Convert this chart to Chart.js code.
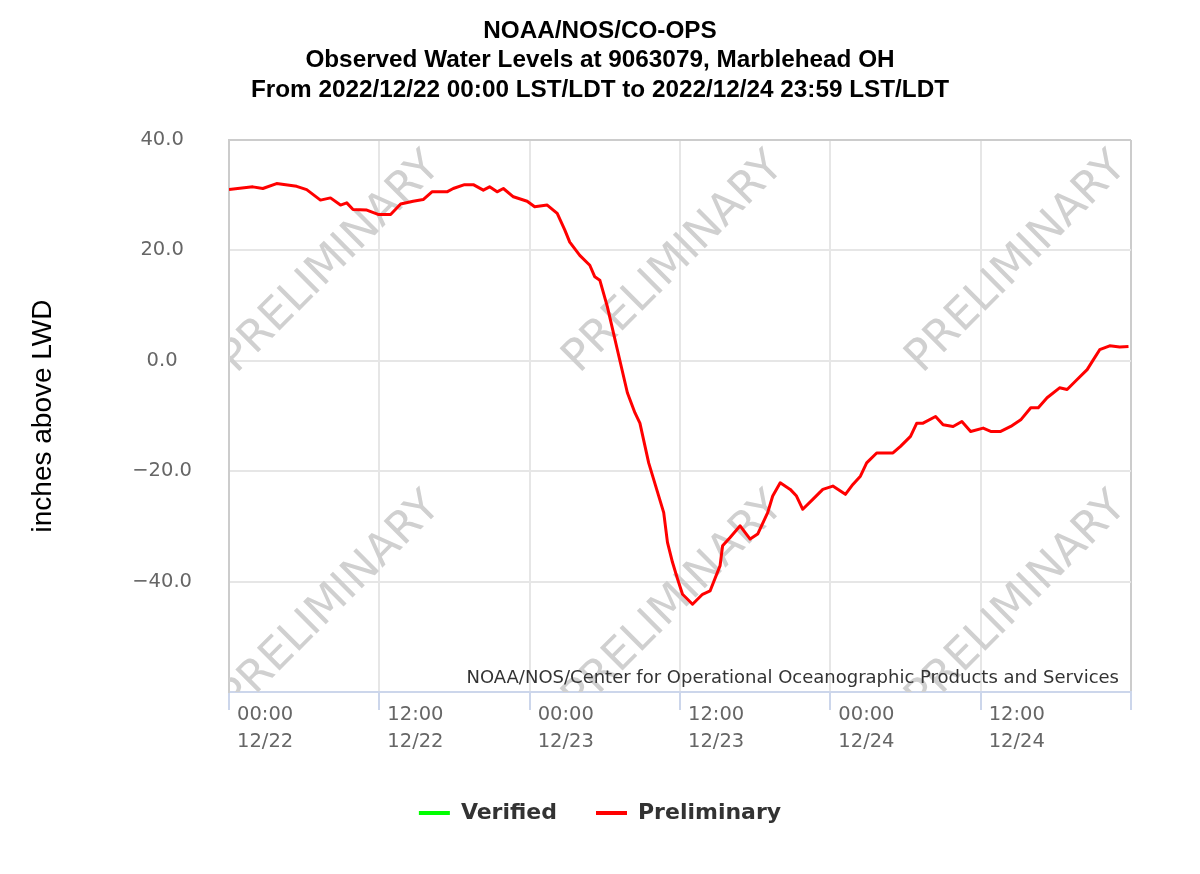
<!DOCTYPE html>
<html>
<head>
<meta charset="utf-8">
<script src="https://cdn.jsdelivr.net/npm/chart.js@4.4.0/dist/chart.umd.min.js"></script>
<style>
  html, body { margin: 0; padding: 0; background: #ffffff; }
  #wrap { width: 1200px; height: 874px; }
</style>
</head>
<body>
<div id="wrap"><canvas id="c" width="1200" height="874"></canvas></div>
<script>
// ---- chart text ----
const titleLines = [
  'NOAA/NOS/CO-OPS',
  'Observed Water Levels at 9063079, Marblehead OH',
  'From 2022/12/22 00:00 LST/LDT to 2022/12/24 23:59 LST/LDT'
];
const yAxisTitle = 'inches above LWD';
const creditText = 'NOAA/NOS/Center for Operational Oceanographic Products and Services';
const watermarkText = 'PRELIMINARY';
const seriesNames = ['Verified', 'Preliminary'];

// ---- x ticks (hours since 2022/12/22 00:00) ----
const xTickHours = [0, 12, 24, 36, 48, 60];
const xTickTimes = ['00:00', '12:00', '00:00', '12:00', '00:00', '12:00'];
const xTickDates = ['12/22', '12/22', '12/23', '12/23', '12/24', '12/24'];
const xMin = 0, xMax = 72;

// ---- y ticks ----
const yTickValues = [40, 20, 0, -20, -40];
const yMin = -60, yMax = 40;

// ---- observed (preliminary) water level, hours since start / inches above LWD ----
const hours = [
  0.0, 1.9, 2.7, 3.8, 5.4, 6.2, 7.3, 8.1, 8.9, 9.4, 9.9, 11.0, 11.9,
  12.9, 13.7, 14.7, 15.5, 16.2, 17.4, 17.9, 18.8, 19.5, 20.3, 20.8, 21.4, 21.9, 22.7, 23.8,
  24.4, 25.4, 26.2, 26.8, 27.2, 28.0, 28.8, 29.2, 29.6, 30.2, 31.0, 31.8, 32.4, 32.8,
  33.5, 34.7, 35.0, 35.4, 35.8, 36.2, 37.0, 37.8, 38.4, 39.2, 39.4, 40.0, 40.8, 41.6,
  42.2, 43.0, 43.4, 44.0, 44.8, 45.3, 45.8, 46.6, 47.4, 48.2, 49.2, 49.8, 50.4, 50.9,
  51.7, 53.0, 53.6, 54.4, 54.9, 55.4, 56.4, 57.0, 57.8, 58.5, 59.2, 60.2, 60.8, 61.6,
  62.4, 63.2, 64.0, 64.6, 65.3, 66.3, 66.9, 67.7, 68.5, 69.0, 69.5, 70.3, 71.1, 71.8
];
const levels = [
  31.0, 31.5, 31.2, 32.1, 31.6, 31.0, 29.1, 29.5, 28.2, 28.6, 27.4, 27.3, 26.5,
  26.5, 28.4, 28.9, 29.2, 30.6, 30.6, 31.2, 31.9, 31.9, 30.9, 31.5, 30.6, 31.2, 29.7, 28.9,
  27.9, 28.2, 26.7, 23.7, 21.5, 19.1, 17.3, 15.2, 14.6, 9.8, 2.0, -5.8, -9.4, -11.3,
  -18.5, -27.5, -32.9, -36.5, -39.5, -42.3, -44.1, -42.3, -41.7, -37.1, -33.5, -32.0, -29.9, -32.3,
  -31.4, -27.5, -24.5, -22.1, -23.3, -24.5, -26.9, -25.1, -23.3, -22.7, -24.2, -22.4, -20.9, -18.5,
  -16.7, -16.7, -15.5, -13.7, -11.3, -11.3, -10.1, -11.6, -11.9, -11.0, -12.8, -12.2, -12.8, -12.8,
  -11.9, -10.7, -8.5, -8.5, -6.7, -4.9, -5.2, -3.4, -1.6, 0.2, 2.0, 2.7, 2.5, 2.6
];
const verifiedHours = [];
const verifiedLevels = [];

const preliminaryData = hours.map((h, i) => ({ x: h, y: levels[i] }));
const verifiedData = verifiedHours.map((h, i) => ({ x: h, y: verifiedLevels[i] }));

function fmtY(v) {
  if (!yTickValues.includes(v)) return '';
  return (v < 0 ? '\u2212' : '') + Math.abs(v).toFixed(1);
}

const watermarkPlugin = {
  id: 'watermark',
  beforeDatasetsDraw(chart) {
    const { ctx, chartArea: a } = chart;
    ctx.save();
    ctx.beginPath();
    ctx.rect(a.left, a.top, a.right - a.left, a.bottom - a.top);
    ctx.clip();
    ctx.fillStyle = '#d0d0d0';
    ctx.font = '44px "DejaVu Sans", sans-serif';
    ctx.textAlign = 'center';
    ctx.textBaseline = 'middle';
    for (let j = 0; j < 2; j++) {
      for (let i = 0; i < 3; i++) {
        const cx = a.left + 102 + i * 343;
        const cy = a.top + 123 + j * 340;
        ctx.save();
        ctx.translate(cx, cy);
        ctx.rotate(-Math.PI / 4);
        ctx.fillText(watermarkText, 0, 0);
        ctx.restore();
      }
    }
    ctx.restore();
  },
  afterDraw(chart) {
    const { ctx, chartArea: a } = chart;
    ctx.save();
    ctx.fillStyle = '#333333';
    ctx.font = '18px "DejaVu Sans", sans-serif';
    ctx.textAlign = 'right';
    ctx.textBaseline = 'middle';
    ctx.fillText(creditText, a.right - 12, a.bottom - 14);
    ctx.restore();
  }
};

new Chart(document.getElementById('c'), {
  type: 'line',
  data: {
    datasets: [
      {
        label: seriesNames[0],
        data: verifiedData,
        borderColor: '#00ff00',
        backgroundColor: '#00ff00',
        borderWidth: 3,
        pointRadius: 0
      },
      {
        label: seriesNames[1],
        data: preliminaryData,
        borderColor: '#ff0000',
        backgroundColor: '#ff0000',
        borderWidth: 3,
        pointRadius: 0,
        tension: 0,
        borderJoinStyle: 'round'
      }
    ]
  },
  options: {
    responsive: false,
    animation: false,
    devicePixelRatio: 1,
    layout: { padding: { left: 0, right: 0, top: 0, bottom: 40 } },
    plugins: {
      tooltip: { enabled: false },
      title: {
        display: true,
        text: titleLines,
        color: '#000000',
        font: { family: '"Liberation Sans", Arial, sans-serif', size: 24.3, weight: 'bold', lineHeight: 1.22 },
        padding: { top: 16, bottom: 35 }
      },
      legend: {
        position: 'bottom',
        labels: {
          boxWidth: 31,
          boxHeight: 4,
          padding: 39,
          color: '#333333',
          font: { family: '"DejaVu Sans", sans-serif', size: 22, weight: 'bold' },
          generateLabels(chart) {
            return chart.data.datasets.map((ds, i) => ({
              text: ds.label,
              fillStyle: ds.borderColor,
              strokeStyle: ds.borderColor,
              lineWidth: 0,
              hidden: false,
              datasetIndex: i,
              fontColor: '#333333'
            }));
          }
        }
      }
    },
    scales: {
      x: {
        type: 'linear',
        min: xMin,
        max: xMax,
        afterFit(scale) { scale.height = 71; },
        border: { display: true, color: '#ccd6eb', width: 2 },
        grid: {
          color: (c) => (c.tick && (c.tick.value === xMax || c.tick.value === xMin)) ? '#cccccc' : '#e6e6e6',
          tickColor: '#ccd6eb',
          tickLength: 18,
          drawTicks: true,
          lineWidth: 2
        },
        ticks: {
          stepSize: 12,
          autoSkip: false,
          maxRotation: 0,
          align: 'start',
          labelOffset: 8,
          padding: -9,
          color: '#666666',
          font: { family: '"DejaVu Sans", sans-serif', size: 19.5, lineHeight: 1.4 },
          callback(value) {
            const i = xTickHours.indexOf(value);
            if (i < 0) return '';
            return [xTickTimes[i], xTickDates[i]];
          }
        }
      },
      y: {
        type: 'linear',
        position: 'left',
        min: yMin,
        max: yMax,
        afterFit(scale) { scale.width = 229; },
        border: { display: true, color: '#cccccc', width: 2 },
        grid: {
          color: (c) => {
            if (!c.tick) return '#e6e6e6';
            if (c.tick.value === yMax) return '#cccccc';
            if (c.tick.value === yMin) return 'rgba(0,0,0,0)';
            return '#e6e6e6';
          },
          drawTicks: false,
          lineWidth: 2
        },
        ticks: {
          stepSize: 20,
          crossAlign: 'center',
          padding: 37,
          color: '#666666',
          font: { family: '"DejaVu Sans", sans-serif', size: 19.5 },
          callback: (v) => fmtY(v)
        },
        title: {
          display: true,
          text: yAxisTitle,
          color: '#000000',
          font: { family: '"Liberation Sans", Arial, sans-serif', size: 28, lineHeight: 1.2 },
          padding: { top: 26, bottom: 0 }
        }
      },
      rightGap: {
        type: 'linear',
        position: 'right',
        display: true,
        afterFit(scale) { scale.width = 69; },
        border: { display: false },
        grid: { display: false, drawTicks: false },
        ticks: { display: false }
      }
    }
  },
  plugins: [watermarkPlugin]
});
</script>
</body>
</html>
